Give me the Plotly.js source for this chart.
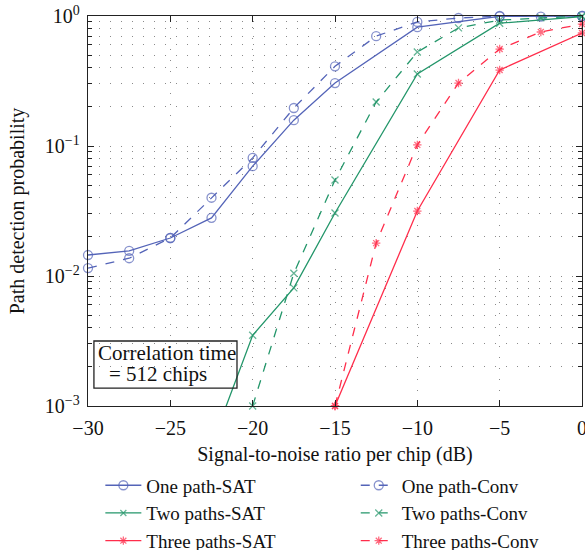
<!DOCTYPE html>
<html>
<head>
<meta charset="utf-8">
<script src="https://cdn.plot.ly/plotly-3.0.1.min.js"></script>
<style>html,body{margin:0;padding:0;background:#fff;}</style>
</head>
<body>
<div id="chart" style="width:585px;height:550px;"></div>
<script>
// Data
const snrSatOne   = [-30, -27.5, -25, -22.5, -20, -17.5, -15, -10, -5, 0];
const pdSatOne    = [0.0145, 0.0156, 0.0196, 0.028, 0.070, 0.158, 0.305, 0.82, 0.995, 1.0];
const snrConvOne  = [-30, -27.5, -25, -22.5, -20, -17.5, -15, -12.5, -10, -7.5, -5, -2.5, 0];
const pdConvOne   = [0.0115, 0.0137, 0.0196, 0.040, 0.081, 0.196, 0.41, 0.70, 0.90, 0.965, 1.0, 0.99, 1.0];

const snrSatTwo   = [-22.5, -20, -17.5, -15, -10, -5, 0];
const pdSatTwo    = [0.0005, 0.0035, 0.0081, 0.0305, 0.358, 0.88, 0.99];
const snrConvTwo  = [-20, -17.5, -15, -12.5, -10, -7.5, -5, -2.5, 0];
const pdConvTwo   = [0.001, 0.0105, 0.0547, 0.218, 0.528, 0.81, 0.93, 0.97, 1.0];

const snrSatThree  = [-15, -10, -5, 0];
const pdSatThree   = [0.001, 0.0316, 0.384, 0.74];
const snrConvThree = [-15, -12.5, -10, -7.5, -5, -2.5, 0];
const pdConvThree  = [0.001, 0.0179, 0.102, 0.305, 0.557, 0.753, 0.867];

const xTickVals = [-30, -25, -20, -15, -10, -5, 0];
const yTickVals = [0.001, 0.01, 0.1, 1];
const yTickText = ['10<sup>−3</sup>', '10<sup>−2</sup>', '10<sup>−1</sup>', '10<sup>0</sup>'];

const names = ['One path-SAT', 'One path-Conv', 'Two paths-SAT', 'Two paths-Conv', 'Three paths-SAT', 'Three paths-Conv'];
const noteLines = ['Correlation time', '= 512 chips'];

const BLUE = '#5464b8', GREEN = '#23966a', RED = '#ff2d4b';
const FONT = 'Liberation Serif, Times New Roman, serif';

function sizes(arr, s) { return arr.map(v => v < 0.001 ? 0 : s); }

function mk(x, y, name, color, dash, symbol, msize, legend) {
  return {
    x: x, y: y, name: name, type: 'scatter', mode: 'lines+markers',
    line: {color: color, width: 1.3, dash: dash},
    marker: {symbol: symbol, size: sizes(y, msize), color: color, line: {color: color, width: 1.3}},
    cliponaxis: false, legend: legend
  };
}

const traces = [
  mk(snrSatOne, pdSatOne, names[0], BLUE, 'solid', 'circle-open', 9, 'legend'),
  mk(snrSatTwo, pdSatTwo, names[2], GREEN, 'solid', 'x-thin-open', 7, 'legend'),
  mk(snrSatThree, pdSatThree, names[4], RED, 'solid', 'asterisk-open', 7, 'legend'),
  mk(snrConvOne, pdConvOne, names[1], BLUE, 'dash', 'circle-open', 9, 'legend2'),
  mk(snrConvTwo, pdConvTwo, names[3], GREEN, 'dash', 'x-thin-open', 7, 'legend2'),
  mk(snrConvThree, pdConvThree, names[5], RED, 'dash', 'asterisk-open', 7, 'legend2')
];

const gridDots = '1px,10px';
const GRID = '#8a8a8a';

const legendBase = {
  yref: 'container', y: 0.152, yanchor: 'top', xanchor: 'left',
  bgcolor: 'rgba(0,0,0,0)', borderwidth: 0,
  font: {family: FONT, size: 19}, traceorder: 'normal',
  itemwidth: 36
};

const layout = {
  width: 585, height: 550,
  margin: {l: 88, r: 3, t: 16, b: 144, autoexpand: false},
  paper_bgcolor: '#fff', plot_bgcolor: '#fff',
  font: {family: FONT, size: 20, color: '#111'},
  showlegend: true,
  xaxis: {
    range: [-30, 0], tickvals: xTickVals,
    showline: true, linecolor: '#222', linewidth: 1.3, mirror: 'allticks',
    ticks: 'inside', ticklen: 6, tickcolor: '#222',
    showgrid: true, gridcolor: GRID, gridwidth: 1, griddash: gridDots,
    zeroline: false, ticklabeloverflow: 'allow', ticklabelstandoff: 4,
    tickfont: {family: FONT, size: 20},
    title: {text: 'Signal-to-noise ratio per chip (dB)', font: {family: FONT, size: 20}, standoff: 12}
  },
  yaxis: {
    type: 'log', range: [-3, 0], tickvals: yTickVals, ticktext: yTickText,
    showline: true, linecolor: '#222', linewidth: 1.3, mirror: 'allticks',
    ticks: 'inside', ticklen: 6, tickcolor: '#222',
    showgrid: true, gridcolor: GRID, gridwidth: 1, griddash: gridDots,
    zeroline: false, ticklabeloverflow: 'allow', ticklabelstandoff: 3,
    tickfont: {family: FONT, size: 20},
    minor: {dtick: 'D1', ticks: 'inside', ticklen: 4, tickcolor: '#222', showgrid: true, gridcolor: GRID, gridwidth: 1, griddash: gridDots},
    title: {text: 'Path detection probability', font: {family: FONT, size: 20}, standoff: 14}
  },
  legend: Object.assign({}, legendBase, {x: 0.025}),
  legend2: Object.assign({}, legendBase, {x: 0.542}),
  shapes: [{
    type: 'rect', xref: 'paper', yref: 'paper',
    x0: 0.012, x1: 0.3016, y0: 0.046, y1: 0.1667,
    line: {color: '#222', width: 1.3}, fillcolor: 'rgba(0,0,0,0)'
  }],
  annotations: [{
    xref: 'paper', yref: 'paper', x: 0.016, y: 0.137, xanchor: 'left', yanchor: 'middle',
    text: noteLines[0], showarrow: false,
    font: {family: FONT, size: 21, color: '#111'}
  }, {
    xref: 'paper', yref: 'paper', x: 0.038, y: 0.081, xanchor: 'left', yanchor: 'middle',
    text: noteLines[1], showarrow: false,
    font: {family: FONT, size: 21, color: '#111'}
  }]
};

Plotly.newPlot('chart', traces, layout, {staticPlot: true, displayModeBar: false});
</script>
</body>
</html>
